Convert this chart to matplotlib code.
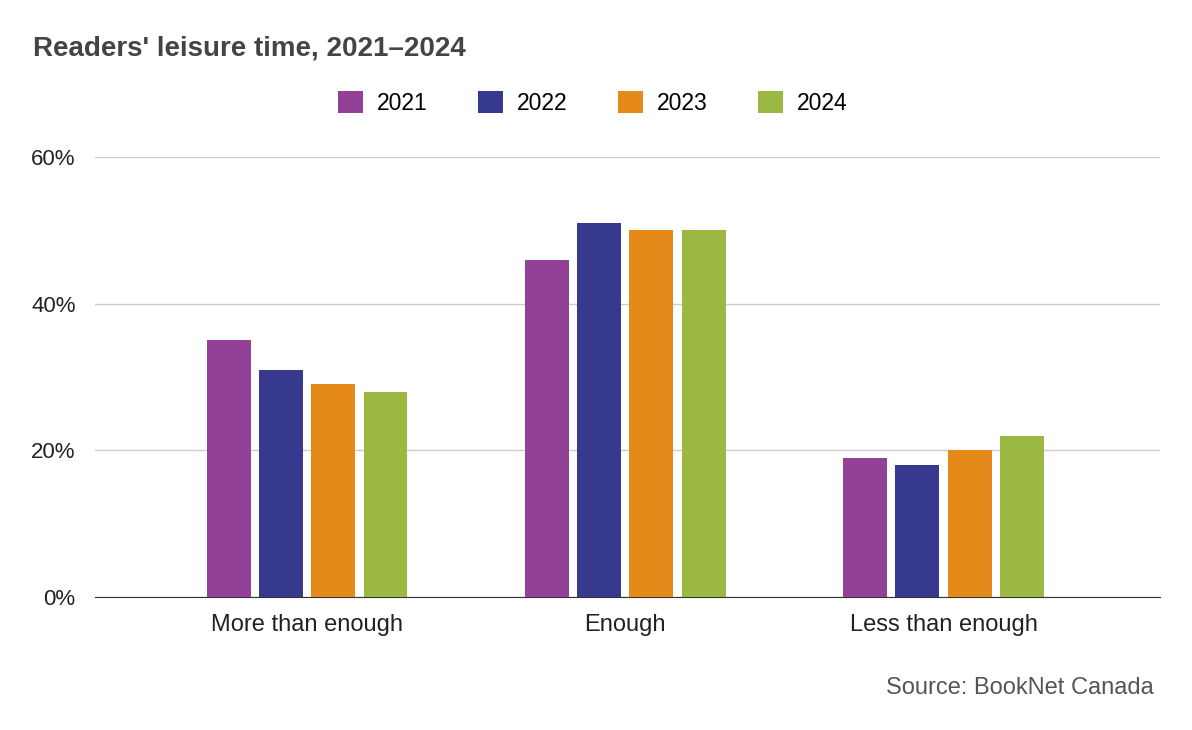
import matplotlib.pyplot as plt
import numpy as np

plt.rcParams['font.family'] = ['Liberation Sans', 'DejaVu Sans']

categories = ['More than enough', 'Enough', 'Less than enough']
years = ['2021', '2022', '2023', '2024']
values = {
    '2021': [35, 46, 19],
    '2022': [31, 51, 18],
    '2023': [29, 50, 20],
    '2024': [28, 50, 22],
}
colors = ['#924196', '#37398F', '#E58A1A', '#9BB843']

fig = plt.figure(figsize=(11.92, 7.3), dpi=100)
ax = fig.add_axes([0.0797, 0.182, 0.8933, 0.603])

x = np.arange(len(categories))
width = 0.138
step = 0.164
for i, (yr, c) in enumerate(zip(years, colors)):
    ax.bar(x + (i - 1.5) * step, values[yr], width, color=c, label=yr, zorder=3)

ax.set_xlim(-0.667, 2.68)
ax.set_ylim(0, 60)
ax.set_yticks([0, 20, 40, 60])
ax.set_yticklabels(['0%', '20%', '40%', '60%'])
ax.set_xticks(x)
ax.set_xticklabels(categories)
ax.tick_params(length=0, labelsize=16, colors='#222222')
ax.tick_params(axis='x', pad=12, labelsize=17)
ax.tick_params(axis='y', pad=14)
ax.grid(axis='y', color='#cccccc', linewidth=1, zorder=0)
for s in ['top', 'right', 'left']:
    ax.spines[s].set_visible(False)
ax.spines['bottom'].set_color('#333333')

fig.text(0.028, 0.934, "Readers' leisure time, 2021\u20132024", fontsize=20,
         fontweight='bold', color='#444444', va='center')
fig.legend(loc='center', bbox_to_anchor=(0.497, 0.859), ncol=4, frameon=False,
           fontsize=16.5, handlelength=1.1, handleheight=1.1, columnspacing=2.2,
           handletextpad=0.6)
fig.text(0.968, 0.058, 'Source: BookNet Canada', fontsize=17, color='#555555',
         ha='right', va='center')

fig.savefig('out.png', dpi=100)
